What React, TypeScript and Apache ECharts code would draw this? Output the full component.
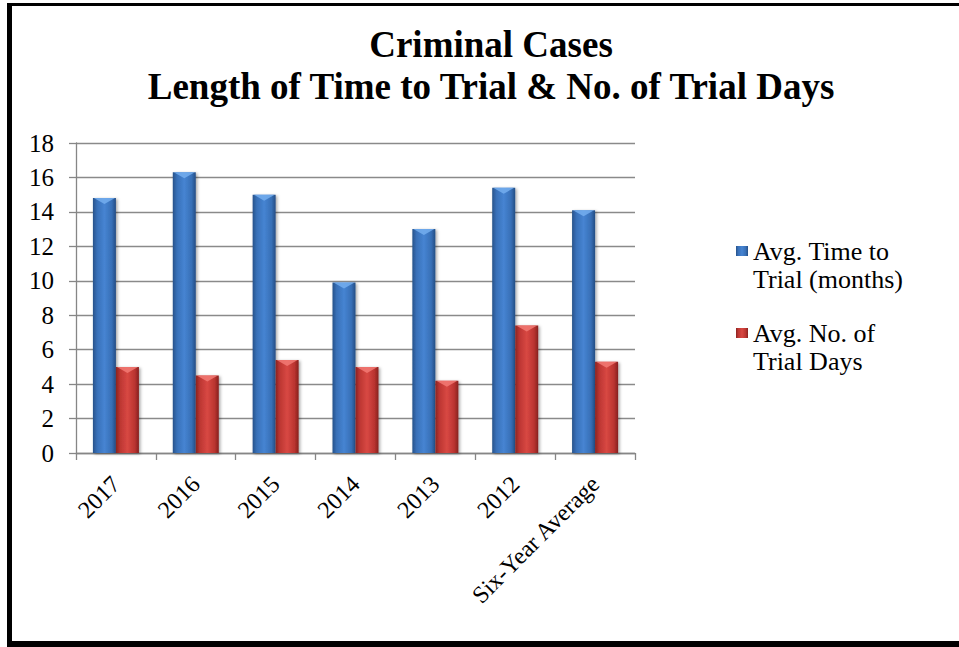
import React, { useEffect, useRef } from "react";
import * as echarts from "echarts";

const categories = ["2017", "2016", "2015", "2014", "2013", "2012", "Six-Year Average"];
const timeToTrial = [14.8, 16.3, 15.0, 9.9, 13.0, 15.4, 14.1];
const trialDays = [5.0, 4.5, 5.4, 5.0, 4.2, 7.4, 5.3];
const seriesNames = ["Avg. Time to\nTrial (months)", "Avg. No. of\nTrial Days"];
const titleLines = ["Criminal Cases", "Length of Time to Trial & No. of Trial Days"];
const yMin = 0;
const yMax = 18;
const yInterval = 2;

const FONT = "Liberation Serif";
const BAR_W = 23;

const blueGrad = new echarts.graphic.LinearGradient(0, 0, 1, 0, [
  { offset: 0, color: "#27528A" },
  { offset: 0.18, color: "#3870B8" },
  { offset: 0.5, color: "#4684D2" },
  { offset: 0.82, color: "#376FB6" },
  { offset: 1, color: "#244D84" },
]);
const redGrad = new echarts.graphic.LinearGradient(0, 0, 1, 0, [
  { offset: 0, color: "#8A2321" },
  { offset: 0.18, color: "#BC3632" },
  { offset: 0.5, color: "#D84843" },
  { offset: 0.82, color: "#BA3430" },
  { offset: 1, color: "#86211F" },
]);

function bevelSeries(values: number[], offset: number, color: string) {
  return {
    type: "custom",
    silent: true,
    z: 5,
    encode: { x: 0, y: 1 },
    data: values.map((v, i) => [i, v]),
    renderItem: (params: any, api: any) => {
      const idx = api.value(0);
      const v = api.value(1);
      const p = api.coord([idx, v]);
      const left = p[0] + offset;
      const right = left + BAR_W;
      const top = p[1];
      return {
        type: "polygon",
        shape: {
          points: [
            [left + 1, top],
            [right - 1, top],
            [(left + right) / 2, top + 6],
          ],
        },
        style: { fill: color, opacity: 0.85 },
      };
    },
  };
}

export default function App() {
  const ref = useRef<HTMLDivElement>(null);
  useEffect(() => {
    document.body.style.margin = "0";
    if (!ref.current) return;
    const chart = echarts.init(ref.current, undefined, { renderer: "svg" });
    const barShadow = {
      shadowBlur: 3,
      shadowColor: "rgba(0,0,0,0.35)",
      shadowOffsetX: 1.5,
      shadowOffsetY: 1,
    };
    chart.setOption({
      animation: false,
      backgroundColor: "#ffffff",
      title: {
        text: titleLines.join("\n"),
        left: 491,
        top: 23,
        textAlign: "center",
        padding: 0,
        textStyle: {
          fontFamily: FONT,
          fontSize: 37,
          fontWeight: "bold",
          lineHeight: 42,
          color: "#000",
        },
      },
      legend: {
        orient: "vertical",
        left: 736,
        top: 209,
        padding: 0,
        itemGap: -2,
        itemWidth: 12,
        itemHeight: 10,
        icon: "rect",
        data: seriesNames,
        formatter: (name: string) => "\n" + name,
        textStyle: {
          fontFamily: FONT,
          fontSize: 26,
          lineHeight: 28,
          color: "#000",
        },
      },
      grid: {
        left: 76,
        right: 324,
        top: 143,
        bottom: 194,
        containLabel: false,
      },
      xAxis: {
        type: "category",
        data: categories,
        axisLine: { lineStyle: { color: "#868686", width: 1.3 } },
        axisTick: { show: true, length: 7, alignWithLabel: false, lineStyle: { color: "#868686", width: 1.3 } },
        axisLabel: {
          rotate: 45,
          margin: 27,
          interval: 0,
          fontFamily: FONT,
          fontSize: 24,
          color: "#000",
        },
      },
      yAxis: {
        type: "value",
        min: yMin,
        max: yMax,
        interval: yInterval,
        axisLine: { show: true, lineStyle: { color: "#868686", width: 1.3 } },
        axisTick: { show: true, length: 7, inside: false, lineStyle: { color: "#868686", width: 1.3 } },
        splitLine: { lineStyle: { color: "#8A8A8A", width: 1.3 } },
        axisLabel: {
          margin: 22,
          fontFamily: FONT,
          fontSize: 25,
          color: "#000",
        },
      },
      series: [
        {
          name: seriesNames[0],
          type: "bar",
          data: timeToTrial,
          barWidth: BAR_W,
          barGap: "0%",
          itemStyle: { color: blueGrad, ...barShadow },
        },
        {
          name: seriesNames[1],
          type: "bar",
          data: trialDays,
          barWidth: BAR_W,
          barGap: "0%",
          itemStyle: { color: redGrad, ...barShadow },
        },
        bevelSeries(timeToTrial, -BAR_W, "#74AEEE"),
        bevelSeries(trialDays, 0, "#F27A74"),
      ],
      graphic: [
        { type: "rect", shape: { x: 7, y: 3, width: 5, height: 644 }, style: { fill: "#000" } },
        { type: "rect", shape: { x: 7, y: 3, width: 952, height: 3 }, style: { fill: "#000" } },
        { type: "rect", shape: { x: 7, y: 641, width: 952, height: 6 }, style: { fill: "#000" } },
      ],
    });
    return () => chart.dispose();
  }, []);
  return (
    <div
      ref={ref}
      style={{ position: "fixed", left: 0, top: 0, width: 959, height: 647 }}
    />
  );
}
